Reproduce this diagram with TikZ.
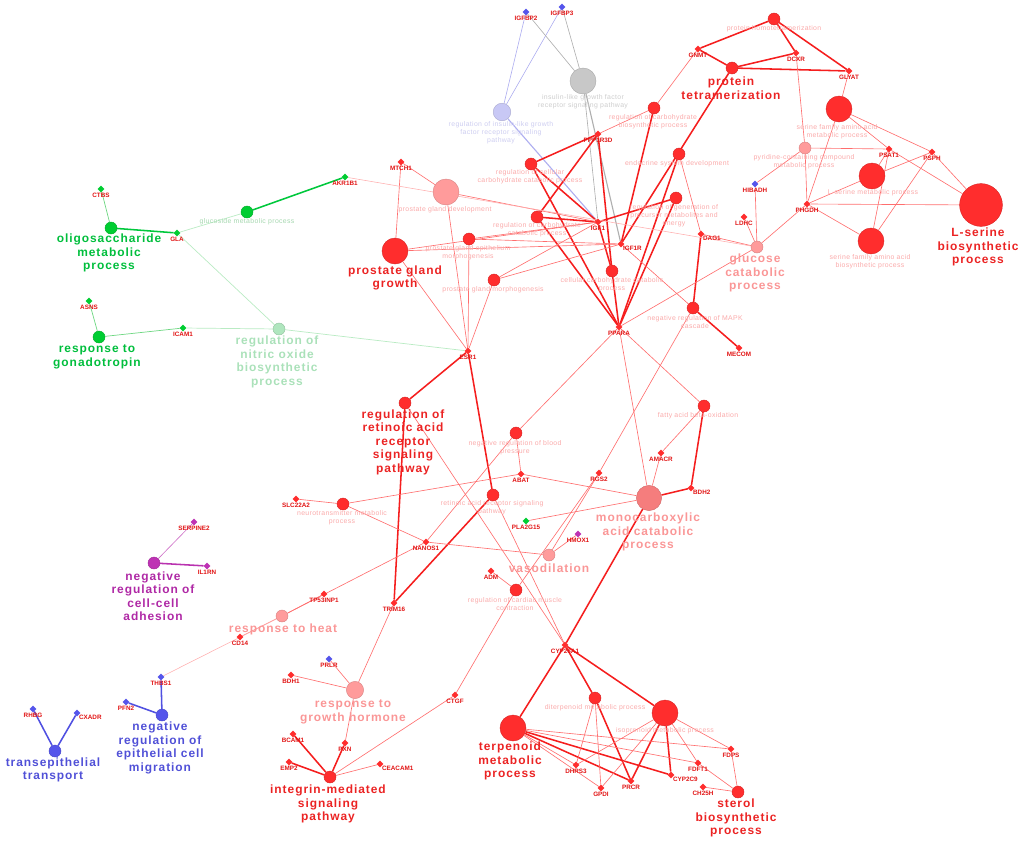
\documentclass[tikz,border=0pt]{standalone}
\usepackage{fontspec}
\setmainfont{Liberation Sans}
\newfontfamily\bigfont[LetterSpace=8]{Liberation Sans}
\newfontfamily\midfont[LetterSpace=5]{Liberation Sans}
\usetikzlibrary{shapes.geometric}
\definecolor{tred}{RGB}{255,45,45}
\definecolor{tpink}{RGB}{255,155,155}
\definecolor{tsalmon}{RGB}{245,125,125}
\definecolor{tgreen}{RGB}{0,205,50}
\definecolor{tpalegreen}{RGB}{175,230,190}
\definecolor{tpurple}{RGB}{190,50,180}
\definecolor{tblue}{RGB}{85,85,235}
\definecolor{tgray}{RGB}{200,200,200}
\definecolor{tlav}{RGB}{200,200,245}
\definecolor{bigred}{RGB}{235,35,35}
\definecolor{bigpink}{RGB}{250,150,150}
\definecolor{midpink}{RGB}{250,170,170}
\definecolor{genered}{RGB}{225,20,20}
\definecolor{biggreen}{RGB}{0,190,60}
\definecolor{bigpalegreen}{RGB}{170,225,185}
\definecolor{bigpurple}{RGB}{175,40,165}
\definecolor{bigblue}{RGB}{80,80,215}
\definecolor{midgray}{RGB}{205,205,205}
\definecolor{midlav}{RGB}{205,205,240}
\definecolor{midgreen}{RGB}{165,215,175}
\definecolor{lthick}{RGB}{245,30,30}
\definecolor{lthin}{RGB}{255,110,110}
\definecolor{lpale}{RGB}{255,175,175}
\definecolor{lgreen}{RGB}{0,200,60}
\definecolor{lgreenthin}{RGB}{110,215,130}
\definecolor{lpalegreen}{RGB}{185,235,195}
\definecolor{lblue}{RGB}{80,80,225}
\definecolor{lpurple}{RGB}{185,50,175}
\definecolor{lgray}{RGB}{175,175,175}
\definecolor{llav}{RGB}{175,175,240}
\pgfdeclarelayer{edges}
\pgfsetlayers{edges,main}
\tikzset{
  term/.style={circle, inner sep=0pt, fill=#1, draw=#1!85!black, line width=0.3pt},
  tsmall/.style={minimum size=3mm},
  tmed/.style={minimum size=4.4mm},
  tlarge/.style={minimum size=6.5mm},
  thuge/.style={minimum size=10.7mm},
  gene/.style={diamond, inner sep=0pt, minimum size=1.7mm, fill=#1, label distance=0.4pt},
  glab/.style={font=\bfseries\fontsize{4.5}{5}\selectfont, text=genered, inner sep=0pt},
  bigtxt/.style={font=\bigfont\bfseries\fontsize{8.5}{9.6}\selectfont, align=center, inner sep=0pt},
  midtxt/.style={font=\midfont\fontsize{4.9}{5.7}\selectfont, align=center, inner sep=0pt, text=midpink},
  lnthick/.style={draw=lthick, line width=1.1pt},
  lnthin/.style={draw=lthin, line width=0.45pt},
  lnpale/.style={draw=lpale, line width=0.4pt},
  lngreen/.style={draw=lgreen, line width=1.1pt},
  lngreenthin/.style={draw=lgreenthin, line width=0.5pt},
  lnpalegreen/.style={draw=lpalegreen, line width=0.5pt},
  lnblue/.style={draw=lblue, line width=1.1pt},
  lnpurple/.style={draw=lpurple, line width=1.1pt},
  lnpurplethin/.style={draw=lpurple!70, line width=0.45pt},
  lngray/.style={draw=lgray, line width=0.45pt},
  lnlav/.style={draw=llav, line width=0.45pt}
}
\begin{document}
\begin{tikzpicture}[x=0.025cm, y=-0.025cm]
  \useasboundingbox (0,0) rectangle (1024,849);

  % terms
  \node [term=tgreen, tsmall] (oligo) at (111,228) {};
  \node [term=tgreen, tsmall] (gonad) at (99,337) {};
  \node [term=tpalegreen, tsmall] (nitric) at (279,329) {};
  \node [term=tgreen, tsmall] (glucos) at (247,212) {};
  \node [term=tgray, tlarge] (insul) at (583,81) {};
  \node [term=tlav, tmed] (regigf) at (502,112) {};
  \node [term=tred, tsmall] (regcell) at (531,164) {};
  \node [term=tpink, tlarge] (pgd) at (446,192) {};
  \node [term=tred, tsmall] (regcarb) at (537,217) {};
  \node [term=tred, tsmall] (pgem) at (469,239) {};
  \node [term=tred, tlarge] (pgg) at (395,251) {};
  \node [term=tred, tsmall] (pgm) at (494,280) {};
  \node [term=tred, tsmall] (ccc) at (612,271) {};
  \node [term=tred, tsmall] (regbio) at (654,108) {};
  \node [term=tred, tsmall] (endo) at (679,154) {};
  \node [term=tred, tsmall] (regen) at (676,198) {};
  \node [term=tred, tsmall] (homo) at (774,19) {};
  \node [term=tred, tsmall] (tetra) at (732,68) {};
  \node [term=tred, tlarge] (sermet) at (839,109) {};
  \node [term=tpink, tsmall] (pyri) at (805,148) {};
  \node [term=tred, tlarge] (lsermet) at (872,176) {};
  \node [term=tred, thuge] (lserbio) at (981,205) {};
  \node [term=tred, tlarge] (serbio) at (871,241) {};
  \node [term=tpink, tsmall] (glucat) at (757,247) {};
  \node [term=tred, tsmall] (negmapk) at (693,308) {};
  \node [term=tred, tsmall] (fatty) at (704,406) {};
  \node [term=tred, tsmall] (negbp) at (516,433) {};
  \node [term=tred, tsmall] (regret) at (405,403) {};
  \node [term=tred, tsmall] (rars) at (493,495) {};
  \node [term=tsalmon, minimum size=6.3mm] (mono) at (649,498) {};
  \node [term=tred, tsmall] (neuro) at (343,504) {};
  \node [term=tpink, tsmall] (vaso) at (549,555) {};
  \node [term=tred, tsmall] (cardiac) at (516,590) {};
  \node [term=tpurple, tsmall] (adhes) at (154,563) {};
  \node [term=tpink, tsmall] (heat) at (282,616) {};
  \node [term=tblue, tsmall] (epith) at (162,715) {};
  \node [term=tblue, tsmall] (transep) at (55,751) {};
  \node [term=tpink, minimum size=4.3mm] (growth) at (355,690) {};
  \node [term=tred, tsmall] (integ) at (330,777) {};
  \node [term=tred, tlarge] (terp) at (513,728) {};
  \node [term=tred, tsmall] (diterp) at (595,698) {};
  \node [term=tred, tlarge] (iso) at (665,713) {};
  \node [term=tred, tsmall] (sterol) at (738,792) {};

  % genes
  \node [gene=tgreen, label={[glab]below:CTBS}] (ctbs) at (101,189) {};
  \node [gene=tgreen, label={[glab]below:GLA}] (gla) at (177,233) {};
  \node [gene=tgreen, label={[glab]below:AKR1B1}] (akr) at (345,177) {};
  \node [gene=tgreen, label={[glab]below:ASNS}] (asns) at (89,301) {};
  \node [gene=tgreen, label={[glab]below:ICAM1}] (icam) at (183,328) {};
  \node [gene=tgreen, label={[glab]below:PLA2G15}] (pla) at (526,521) {};
  \node [gene=tblue, label={[glab]below:IGFBP2}] (igfbpa) at (526,12) {};
  \node [gene=tblue, label={[glab]below:IGFBP3}] (igfbpb) at (562,7) {};
  \node [gene=tblue, label={[glab]below:HIBADH}] (hibadh) at (755,184) {};
  \node [gene=tblue, label={[glab]below:PRLR}] (prlr) at (329,659) {};
  \node [gene=tblue, label={[glab]below:THBS1}] (thbs) at (161,677) {};
  \node [gene=tblue, label={[glab]below:PFN2}] (pfn) at (126,702) {};
  \node [gene=tblue, label={[glab]below:RHBG}] (rhbg) at (33,709) {};
  \node [gene=tblue, label={[glab]below right:CXADR}] (cxadr) at (77,713) {};
  \node [gene=tpurple, label={[glab]below:SERPINE2}] (serpine) at (194,522) {};
  \node [gene=tpurple, label={[glab]below:IL1RN}] (ilrn) at (207,566) {};
  \node [gene=tpurple, label={[glab]below:HMOX1}] (hmox) at (578,534) {};
  \node [gene=tred, label={[glab]below:MTCH1}] (mtch) at (401,162) {};
  \node [gene=tred, label={[glab]below:PPP1R3D}] (ppp) at (598,134) {};
  \node [gene=tred, label={[glab]below:IGF1}] (igf) at (598,222) {};
  \node [gene=tred, label={[glab]below right:IGF1R}] (igfr) at (621,244) {};
  \node [gene=tred, label={[glab]below:ESR1}] (esr) at (468,351) {};
  \node [gene=tred, label={[glab]below:PPARA}] (ppara) at (619,327) {};
  \node [gene=tred, label={[glab]below:GNMT}] (gnmt) at (698,49) {};
  \node [gene=tred, label={[glab]below:DCXR}] (dcxr) at (796,53) {};
  \node [gene=tred, label={[glab]below:GLYAT}] (glyat) at (849,71) {};
  \node [gene=tred, label={[glab]below:PSAT1}] (psat) at (889,149) {};
  \node [gene=tred, label={[glab]below:PSPH}] (psph) at (932,152) {};
  \node [gene=tred, label={[glab]below:LDHC}] (ldhc) at (744,217) {};
  \node [gene=tred, label={[glab]below:PHGDH}] (phgdh) at (807,204) {};
  \node [gene=tred, label={[glab]below right:DAG1}] (dag) at (701,234) {};
  \node [gene=tred, label={[glab]below:MECOM}] (mecom) at (739,348) {};
  \node [gene=tred, label={[glab]below:AMACR}] (amacr) at (661,453) {};
  \node [gene=tred, label={[glab]below right:BDH2}] (bdhb) at (691,488) {};
  \node [gene=tred, label={[glab]below:ABAT}] (abat) at (521,474) {};
  \node [gene=tred, label={[glab]below:RGS2}] (rgs) at (599,473) {};
  \node [gene=tred, label={[glab]below:SLC22A2}] (slc) at (296,499) {};
  \node [gene=tred, label={[glab]below:NANOS1}] (nanos) at (426,542) {};
  \node [gene=tred, label={[glab]below:ADM}] (adm) at (491,571) {};
  \node [gene=tred, label={[glab]below:TP53INP1}] (tp) at (324,594) {};
  \node [gene=tred, label={[glab]below:TRIM16}] (trim) at (394,603) {};
  \node [gene=tred, label={[glab]below:CD14}] (cd) at (240,637) {};
  \node [gene=tred, label={[glab]below:CYP26A1}] (cyp) at (565,645) {};
  \node [gene=tred, label={[glab]below:CTGF}] (ctgf) at (455,695) {};
  \node [gene=tred, label={[glab]below:BDH1}] (bdha) at (291,675) {};
  \node [gene=tred, label={[glab]below:BCAM1}] (bcam) at (293,734) {};
  \node [gene=tred, label={[glab]below:EMP2}] (emp) at (289,762) {};
  \node [gene=tred, label={[glab]below:PXN}] (pxn) at (345,743) {};
  \node [gene=tred, label={[glab]below right:CEACAM1}] (ceacam) at (380,764) {};
  \node [gene=tred, label={[glab]below:DHRS3}] (dhrs) at (576,765) {};
  \node [gene=tred, label={[glab]below:GPDI}] (gpdi) at (601,788) {};
  \node [gene=tred, label={[glab]below:PRCR}] (prcr) at (631,781) {};
  \node [gene=tred, label={[glab]below right:CYP2C9}] (cypc) at (671,775) {};
  \node [gene=tred, label={[glab]below:FDFT1}] (fdft) at (698,763) {};
  \node [gene=tred, label={[glab]below:FDPS}] (fdps) at (731,749) {};
  \node [gene=tred, label={[glab]below:CH25H}] (ch) at (703,787) {};

  % big labels
  \node [bigtxt, text=biggreen] (oligoL) at (109,253) {oligosaccharide\\metabolic\\process};
  \node [bigtxt, text=biggreen] (gonadL) at (97,357) {response to\\gonadotropin};
  \node [bigtxt, text=bigpalegreen] (nitricL) at (277,362) {regulation of\\nitric oxide\\biosynthetic\\process};
  \node [bigtxt, text=bigred] (pggL) at (395,278) {prostate gland\\growth};
  \node [bigtxt, text=bigred] (tetraL) at (731,88) {protein\\tetramerization};
  \node [bigtxt, text=bigred] (lserbioL) at (978,247) {L-serine\\biosynthetic\\process};
  \node [bigtxt, text=bigpink] (glucatL) at (755,273) {glucose\\catabolic\\process};
  \node [bigtxt, text=bigred] (regretL) at (403,442) {regulation of\\retinoic acid\\receptor\\signaling\\pathway};
  \node [bigtxt, text=bigpink] (monoL) at (648,532) {monocarboxylic\\acid catabolic\\process};
  \node [bigtxt, text=bigpink] (vasoL) at (549,568) {vasodilation};
  \node [bigtxt, text=bigpurple] (adhesL) at (153,596) {negative\\regulation of\\cell-cell\\adhesion};
  \node [bigtxt, text=bigpink] (heatL) at (283,629) {response to heat};
  \node [bigtxt, text=bigblue] (epithL) at (160,748) {negative\\regulation of\\epithelial cell\\migration};
  \node [bigtxt, text=bigblue] (transepL) at (53,770) {transepithelial\\transport};
  \node [bigtxt, text=bigpink] (growthL) at (353,712) {response to\\growth hormone};
  \node [bigtxt, text=bigred] (integL) at (328,804) {integrin-mediated\\signaling\\pathway};
  \node [bigtxt, text=bigred] (terpL) at (510,761) {terpenoid\\metabolic\\process};
  \node [bigtxt, text=bigred] (sterolL) at (736,818) {sterol\\biosynthetic\\process};

  % small labels
  \node [midtxt, text=midgreen] (glucosL) at (247,222) {glucoside metabolic process};
  \node [midtxt, text=midgray] (insulL) at (583,102) {insulin-like growth factor\\receptor signaling pathway};
  \node [midtxt, text=midlav] (regigfL) at (501,133) {regulation of insulin-like growth\\factor receptor signaling\\pathway};
  \node [midtxt] (regcellL) at (530,177) {regulation of cellular\\carbohydrate catabolic process};
  \node [midtxt] (pgdL) at (445,210) {prostate gland development};
  \node [midtxt] (regcarbL) at (537,230) {regulation of carbohydrate\\catabolic process};
  \node [midtxt] (pgemL) at (468,253) {prostate gland epithelium\\morphogenesis};
  \node [midtxt] (pgmL) at (493,290) {prostate gland morphogenesis};
  \node [midtxt] (cccL) at (612,285) {cellular carbohydrate catabolic\\process};
  \node [midtxt] (regbioL) at (653,122) {regulation of carbohydrate\\biosynthetic process};
  \node [midtxt] (endoL) at (677,164) {endocrine system development};
  \node [midtxt] (regenL) at (674,216) {regulation of generation of\\precursor metabolites and\\energy};
  \node [midtxt] (homoL) at (774,29) {protein homotetramerization};
  \node [midtxt] (sermetL) at (837,132) {serine family amino acid\\metabolic process};
  \node [midtxt] (pyriL) at (804,162) {pyridine-containing compound\\metabolic process};
  \node [midtxt] (lsermetL) at (873,193) {L-serine metabolic process};
  \node [midtxt] (serbioL) at (870,262) {serine family amino acid\\biosynthetic process};
  \node [midtxt] (negmapkL) at (695,322) {negative regulation of MAPK\\cascade};
  \node [midtxt] (fattyL) at (698,416) {fatty acid beta-oxidation};
  \node [midtxt] (negbpL) at (515,448) {negative regulation of blood\\pressure};
  \node [midtxt] (neuroL) at (342,518) {neurotransmitter metabolic\\process};
  \node [midtxt] (rarsL) at (492,508) {retinoic acid receptor signaling\\pathway};
  \node [midtxt] (cardiacL) at (515,604) {regulation of cardiac muscle\\contraction};
  \node [midtxt] (diterpL) at (595,708) {diterpenoid metabolic process};
  \node [midtxt] (isoL) at (665,731) {isoprenoid metabolic process};

  % connectors
  \begin{pgfonlayer}{edges}
    \foreach \a/\b in {oligo/gla, glucos/akr}
      \draw [lngreen] (\a) -- (\b);
    \foreach \a/\b in {oligo/ctbs, gonad/asns, gonad/icam}
      \draw [lngreenthin] (\a) -- (\b);
    \foreach \a/\b in {glucos/gla, nitric/gla, nitric/icam, nitric/esr}
      \draw [lnpalegreen] (\a) -- (\b);
    \foreach \a/\b in {regigf/igfbpa, regigf/igfbpb}
      \draw [lnlav] (\a) -- (\b);
    \draw [lnlav, line width=0.8pt] (regigf) -- (igf);
    \foreach \a/\b in {insul/igfbpa, insul/igfbpb, insul/igf}
      \draw [lngray] (\a) -- (\b);
    \draw [lngray, line width=0.8pt] (insul) -- (igfr);
    \foreach \a/\b in {regcell/ppp, regcell/igf, regcell/ppara, regcarb/ppp, regcarb/igf,
      regcarb/ppara, ccc/ppp, ccc/igf, ccc/ppara, regen/igf, regen/ppara, endo/ppara,
      regbio/igfr, homo/gnmt, homo/dcxr, homo/glyat, tetra/gnmt, tetra/dcxr, tetra/glyat,
      tetra/igfr, negmapk/dag, negmapk/mecom, regret/esr, regret/trim, rars/esr, rars/trim,
      fatty/bdhb, mono/bdhb, mono/cyp, integ/bcam, integ/emp, integ/pxn, terp/cyp,
      terp/prcr, terp/cypc, diterp/cyp, diterp/prcr, iso/cyp, iso/prcr, iso/cypc}
      \draw [lnthick] (\a) -- (\b);
    \foreach \a/\b in {regbio/ppp, regbio/gnmt, pgd/mtch, pgd/esr, pgd/igf, pgg/mtch,
      pgg/esr, pgg/igf, pgg/igfr, pgem/esr, pgem/igf, pgem/igfr, pgm/esr, pgm/igf, pgm/igfr,
      endo/dag, negmapk/igfr, negmapk/rgs, glucat/dag, glucat/ldhc, glucat/hibadh,
      glucat/phgdh, glucat/ppara, pyri/hibadh, pyri/dcxr, pyri/phgdh, pyri/psat,
      sermet/glyat, sermet/phgdh, sermet/psat, sermet/psph, lsermet/phgdh, lsermet/psat,
      lsermet/psph, lserbio/phgdh, lserbio/psat, lserbio/psph, serbio/phgdh, serbio/psat,
      serbio/psph, regret/cyp, rars/cyp, negbp/ppara, negbp/abat, negbp/nanos,
      fatty/ppara, fatty/amacr, mono/ppara, mono/amacr, mono/abat, mono/pla, neuro/slc,
      neuro/abat, neuro/nanos, vaso/nanos, vaso/hmox, vaso/rgs, cardiac/adm, cardiac/rgs,
      cardiac/ctgf, heat/tp, heat/nanos, heat/cd, growth/trim, growth/prlr, growth/bdha,
      growth/pxn, integ/ceacam, integ/ctgf, terp/dhrs, terp/gpdi, terp/fdft, terp/fdps,
      diterp/dhrs, diterp/gpdi, iso/dhrs, iso/gpdi, iso/fdft, iso/fdps, sterol/fdps,
      sterol/fdft, sterol/ch}
      \draw [lnthin] (\a) -- (\b);
    \foreach \a/\b in {glucat/akr, heat/thbs}
      \draw [lnpale] (\a) -- (\b);
    \foreach \a/\b in {epith/thbs, epith/pfn, transep/rhbg, transep/cxadr}
      \draw [lnblue] (\a) -- (\b);
    \draw [lnpurple] (adhes) -- (ilrn);
    \draw [lnpurplethin] (adhes) -- (serpine);
  \end{pgfonlayer}
\end{tikzpicture}
\end{document}
